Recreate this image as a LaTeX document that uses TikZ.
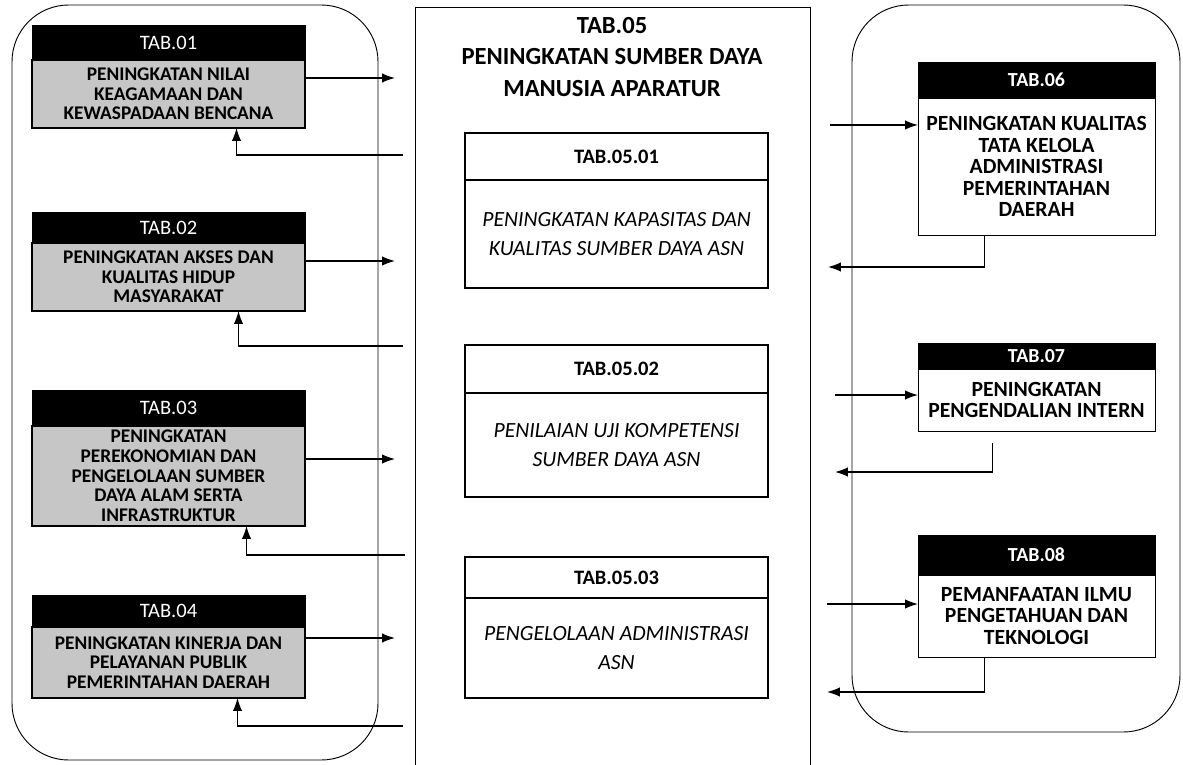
\documentclass[tikz,border=0pt]{standalone}
\usepackage{fontspec}
\setmainfont{Carlito}
\usetikzlibrary{positioning,arrows.meta}
\newdimen\upx \upx=0.03cm
\begin{document}
\begin{tikzpicture}[x=0.03cm,y=-0.03cm,
    frame/.style={draw=black,line width=0.8pt,rounded corners=1.7cm},
    lhead/.style={draw=black,fill=black,text=white,minimum width=273\upx,inner sep=1pt,outer sep=0pt,font=\fontsize{17.5}{18}\selectfont},
    lbody/.style={draw=black,line width=1.2pt,fill=gray!45,minimum width=273\upx,inner sep=1pt,outer sep=0pt,align=center,font=\bfseries\fontsize{16.5}{16.8}\selectfont},
    rhead/.style={draw=black,fill=black,text=white,minimum width=237\upx,inner sep=1pt,outer sep=0pt,font=\bfseries\fontsize{17}{17}\selectfont},
    rbody/.style={draw=black,line width=0.8pt,fill=white,minimum width=237\upx,inner sep=1pt,outer sep=0pt,align=center,font=\bfseries\fontsize{18.5}{18.3}\selectfont},
    shead/.style={draw=black,line width=1.5pt,minimum width=303\upx,outer sep=0pt,font=\bfseries\fontsize{17.5}{18}\selectfont},
    sbody/.style={draw=black,line width=1.5pt,minimum width=303\upx,outer sep=0pt,align=center,font=\itshape\fontsize{18.5}{25}\selectfont},
    arrow/.style={-{Latex[length=11pt,width=8pt]},line width=1.1pt}
]
\useasboundingbox (0,0) rectangle (1183,765);

\draw[frame] (12,5) rectangle (378,760);
\draw[frame] (852,5) rectangle (1180,732);

\node[lhead,minimum height=35\upx,anchor=north] (t1h) at (168.5,25) {TAB.01};
\node[lbody,minimum height=68\upx,below=0pt of t1h] (t1) {PENINGKATAN NILAI\\KEAGAMAAN DAN\\KEWASPADAAN BENCANA};
\node[lhead,minimum height=31\upx,anchor=north] (t2h) at (168.5,212) {TAB.02};
\node[lbody,minimum height=68\upx,below=0pt of t2h] (t2) {PENINGKATAN AKSES DAN\\KUALITAS HIDUP\\MASYARAKAT};
\node[lhead,minimum height=36\upx,anchor=north] (t3h) at (168.5,390) {TAB.03};
\node[lbody,minimum height=100\upx,below=0pt of t3h] (t3) {PENINGKATAN\\PEREKONOMIAN DAN\\PENGELOLAAN SUMBER\\DAYA ALAM SERTA\\INFRASTRUKTUR};
\node[lhead,minimum height=32\upx,anchor=north] (t4h) at (168.5,595) {TAB.04};
\node[lbody,minimum height=71\upx,below=0pt of t4h] (t4) {PENINGKATAN KINERJA DAN\\PELAYANAN PUBLIK\\PEMERINTAHAN DAERAH};

\node[draw=black,line width=0.8pt,minimum width=395\upx,minimum height=780\upx,anchor=north] (t5) at (612.5,7) {};
\node[align=center,font=\bfseries\fontsize{21}{27}\selectfont] (t5t) at (612,57) {TAB.05\\PENINGKATAN SUMBER DAYA\\MANUSIA APARATUR};

\node[shead,minimum height=47\upx,anchor=north] (s1h) at (616.5,133) {TAB.05.01};
\node[sbody,minimum height=108\upx,below=0pt of s1h] (s1) {PENINGKATAN KAPASITAS DAN\\KUALITAS SUMBER DAYA ASN};
\node[shead,minimum height=48\upx,anchor=north] (s2h) at (616.5,345) {TAB.05.02};
\node[sbody,minimum height=104\upx,below=0pt of s2h] (s2) {PENILAIAN UJI KOMPETENSI\\SUMBER DAYA ASN};
\node[shead,minimum height=41\upx,anchor=north] (s3h) at (616.5,557) {TAB.05.03};
\node[sbody,minimum height=100\upx,below=0pt of s3h] (s3) {PENGELOLAAN ADMINISTRASI\\ASN};

\node[rhead,minimum height=36\upx,anchor=north] (t6h) at (1036.5,62) {TAB.06};
\node[rbody,minimum height=137\upx,below=0pt of t6h] (t6) {PENINGKATAN KUALITAS\\TATA KELOLA\\ADMINISTRASI\\PEMERINTAHAN\\DAERAH};
\node[rhead,minimum height=26\upx,anchor=north] (t7h) at (1036.5,343) {TAB.07};
\node[rbody,minimum height=62\upx,below=0pt of t7h] (t7) {PENINGKATAN\\PENGENDALIAN INTERN};
\node[rhead,minimum height=40\upx,anchor=north] (t8h) at (1036.5,535) {TAB.08};
\node[rbody,minimum height=82\upx,below=0pt of t8h] (t8) {PEMANFAATAN ILMU\\PENGETAHUAN DAN\\TEKNOLOGI};

\coordinate (o1) at (395,78);
\coordinate (o2) at (395,261);
\coordinate (o3) at (395,459);
\coordinate (o4) at (395,638);
\coordinate (r1) at (403,155);
\coordinate (r2) at (403,346);
\coordinate (r3) at (405,555);
\coordinate (r4) at (403,726);

\draw[arrow] (t1.east |- o1) -- (o1);
\draw[arrow] (t2.east |- o2) -- (o2);
\draw[arrow] (t3.east |- o3) -- (o3);
\draw[arrow] (t4.east |- o4) -- (o4);
\draw[arrow] (r1) -| ([xshift=68\upx]t1.south);
\draw[arrow] (r2) -| ([xshift=70\upx]t2.south);
\draw[arrow] (r3) -| ([xshift=78\upx]t3.south);
\draw[arrow] (r4) -| ([xshift=69\upx]t4.south);

\coordinate (i6) at (830,125);
\coordinate (i7) at (835,395);
\coordinate (i8) at (827,604);
\coordinate (b6) at (828,267);
\coordinate (b7) at (835,472);
\coordinate (b8) at (827,692);

\draw[arrow] (i6) -- (t6.west |- i6);
\draw[arrow] (i7) -- (t7.west |- i7);
\draw[arrow] (i8) -- (t8.west |- i8);
\draw[arrow] ([xshift=-52\upx]t6.south) |- (b6);
\draw[arrow] ([xshift=-44\upx,yshift=-12\upx]t7.south) |- (b7);
\draw[arrow] ([xshift=-52\upx]t8.south) |- (b8);
\end{tikzpicture}
\end{document}
